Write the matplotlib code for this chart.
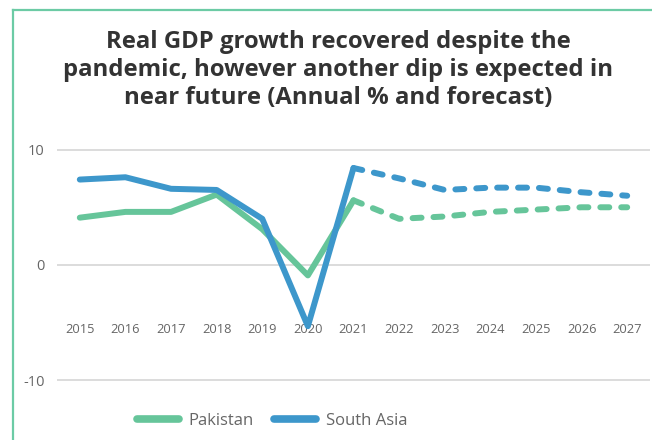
import matplotlib
matplotlib.use("Agg")
import matplotlib.pyplot as plt
from matplotlib.lines import Line2D

years = [2015, 2016, 2017, 2018, 2019, 2020, 2021, 2022, 2023, 2024, 2025, 2026, 2027]
pakistan = [4.1, 4.6, 4.6, 6.1, 3.1, -0.9, 5.6, 4.0, 4.2, 4.6, 4.8, 5.0, 5.0]
south_asia = [7.4, 7.6, 6.6, 6.5, 4.0, -5.3, 8.4, 7.5, 6.5, 6.7, 6.7, 6.3, 6.0]
last_actual = 2021
y_ticks = [-10, 0, 10]
title = "Real GDP growth recovered despite the\npandemic, however another dip is expected in\nnear future (Annual % and forecast)"
series_names = ["Pakistan", "South Asia"]

GREEN = "#66C59A"
BLUE = "#3D97CB"
GRAY = "#666666"
FONT = ["Open Sans", "DejaVu Sans"]

W, H = 652, 440
fig = plt.figure(figsize=(W / 100, H / 100), dpi=100)
fig.patch.set_facecolor("white")

# frame lines (top and left)
border = "#6CCBA5"
fig.add_artist(Line2D([13 / W, 13 / W], [0, 1 - 10 / H], color=border, lw=1.6, transform=fig.transFigure))
fig.add_artist(Line2D([13 / W, 1], [1 - 10 / H, 1 - 10 / H], color=border, lw=1.6, transform=fig.transFigure))

fig.text(338 / W, 1 - 70 / H, title, ha="center", va="center", fontsize=17.2,
         fontweight="bold", color="#333333", family=FONT, linespacing=1.2)

ax_l, ax_r = 57, 650
ax_t, ax_b = 138, 392
ax = fig.add_axes([ax_l / W, 1 - ax_b / H, (ax_r - ax_l) / W, (ax_b - ax_t) / H])
ax.set_xlim(2014.5, 2027.5)
ax.set_ylim(-11, 11)
for s in ax.spines.values():
    s.set_visible(False)
ax.set_yticks(y_ticks)
ax.set_yticklabels([str(v) for v in y_ticks], family=FONT, fontsize=10.5, color=GRAY)
ax.tick_params(axis="y", length=0, pad=9)
ax.set_xticks([])
for v in y_ticks:
    ax.axhline(v, color="#D5D5D5", lw=1.2, zorder=0)

for yr in years:
    ax.text(yr, -5.6, str(yr), ha="center", va="center", fontsize=9.3, color=GRAY, family=FONT)

i = years.index(last_actual)
for vals, col in [(pakistan, GREEN), (south_asia, BLUE)]:
    ax.plot(years[:i + 1], vals[:i + 1], color=col, lw=4.3, solid_joinstyle="round",
            solid_capstyle="round", zorder=3 if col == BLUE else 2)
    ax.plot(years[i:], vals[i:], color=col, lw=4.3, dashes=(1.5, 2.0),
            dash_capstyle="round", dash_joinstyle="round", zorder=2)

handles = [Line2D([], [], color=GREEN, lw=5.5, solid_capstyle="round"),
           Line2D([], [], color=BLUE, lw=5.5, solid_capstyle="round")]
leg = fig.legend(handles, series_names, loc="center", bbox_to_anchor=(272 / W, 1 - 421 / H),
                 ncol=2, frameon=False, prop={"family": FONT, "size": 12},
                 handlelength=2.5, columnspacing=1.2, handletextpad=0.6)
for t in leg.get_texts():
    t.set_color(GRAY)

fig.savefig("out.png", dpi=100, facecolor="white")
